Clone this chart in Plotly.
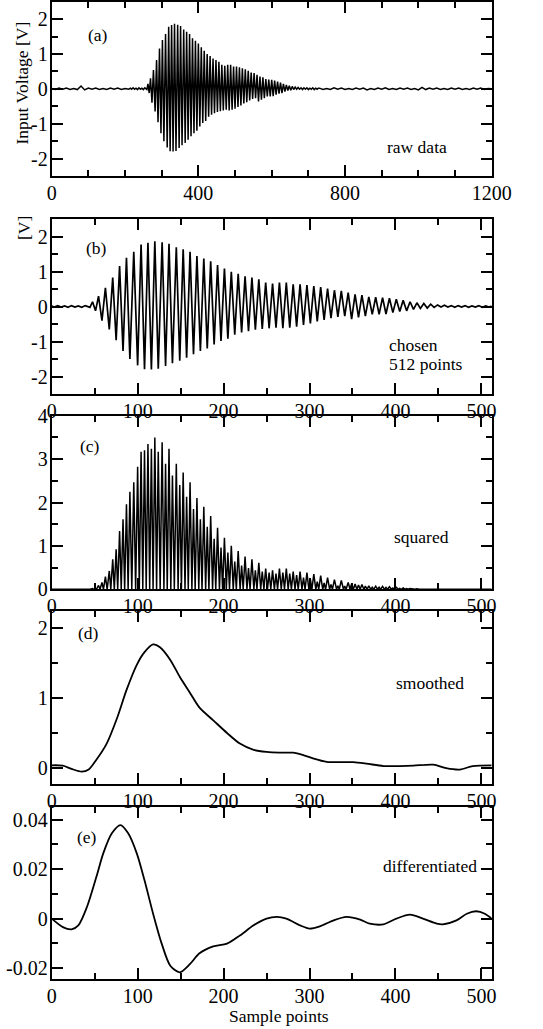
import numpy as np
import plotly.graph_objects as go

# ---------------- data ----------------
# chosen 512-point window: half-cycle extremes (sample index, volts)
chosen_x = [0, 3, 7, 11, 15, 19, 23, 27, 31, 35, 39, 42, 44.5,
            47.5, 51, 54.5, 58.5, 62.5, 67, 71, 75, 79, 83, 87, 91, 95.5, 100,
            104, 108, 112, 116, 120, 124, 128.5, 132.5, 136.5, 140.5, 145, 149,
            153, 157, 161, 165, 169, 173, 177, 181, 185, 189, 193, 197, 201, 205,
            209, 213, 217, 221, 225, 229, 233, 237, 241, 245, 249, 253, 257, 261,
            265, 269, 273, 277, 281, 285, 289, 293, 297, 301, 305, 309, 313, 317,
            321, 325, 329, 333, 337, 341, 345, 349, 353, 357, 361, 365, 369, 373,
            377, 381, 385, 389, 393, 397, 401, 405, 409, 413, 417, 421, 425, 429,
            433, 437, 441, 445,
            449, 453, 457, 461, 465, 469, 473, 477, 481, 485, 489, 493, 497, 501,
            505, 509, 512]
chosen_v = [0.02, -0.01, 0.03, -0.01, 0.02, -0.02, 0.03, -0.01, 0.02, -0.02, 0.03, -0.01, -0.02,
            0.14, -0.12, 0.30, -0.40, 0.54, -0.65, 0.83, -0.96, 1.16, -1.27, 1.40, -1.50, 1.57, -1.68,
            1.78, -1.79, 1.83, -1.80, 1.87, -1.78, 1.84, -1.70, 1.80, -1.62, 1.70, -1.55,
            1.64, -1.46, 1.57, -1.36, 1.45, -1.27, 1.38, -1.20, 1.30, -1.08, 1.19, -0.98, 1.09, -0.92,
            1.00, -0.80, 0.94, -0.74, 0.87, -0.70, 0.83, -0.66, 0.78, -0.64, 0.69, -0.62, 0.66, -0.60,
            0.69, -0.62, 0.69, -0.60, 0.64, -0.57, 0.64, -0.52, 0.62, -0.48, 0.59, -0.42, 0.56, -0.38,
            0.52, -0.33, 0.47, -0.29, 0.45, -0.27, 0.40, -0.36, 0.35, -0.31, 0.33, -0.27, 0.28, -0.22,
            0.27, -0.22, 0.26, -0.21, 0.24, -0.17, 0.21, -0.14, 0.18, -0.12, 0.14, -0.08, 0.11, -0.05,
            0.09, -0.04, 0.07, -0.02,
            0.05, -0.01, 0.04, -0.01, 0.03, -0.02, 0.03, -0.01, 0.03, -0.02, 0.02, -0.01, 0.03, -0.02,
            0.02, -0.01, 0.02]

window_start = 215  # raw sample index where the chosen window begins

# raw samples outside the chosen window (every 10th sample)
raw_pre_v = [0.01, -0.02, 0.02, -0.01, 0.02, -0.02, 0.01, -0.02, 0.08, -0.03, 0.02,
             -0.01, 0.02, -0.02, 0.01, -0.02, 0.02, -0.01, 0.02, -0.02, 0.01, -0.01]
raw_post_v = [0.02, -0.02, 0.01, -0.02, 0.03, -0.01, 0.02, -0.02, 0.01, -0.02,
              0.02, -0.01, 0.02, -0.03, 0.01, -0.02, 0.02, -0.01, 0.03, -0.02,
              0.01, -0.02, 0.02, -0.01, 0.02, -0.02, 0.01, -0.03, 0.04, -0.02,
              0.02, -0.01, 0.02, -0.02, 0.01, -0.02, 0.02, -0.01, 0.02, -0.02,
              0.01, -0.02, 0.02, -0.01, 0.02, -0.02, 0.01, 0.0]
raw_pre_x = np.arange(0, 211, 10)
raw_post_x = np.arange(730, 1201, 10)

smooth_x = [0, 13, 23, 35, 43, 52, 64, 76, 87, 99, 108, 118, 126, 138, 149, 161, 172, 188,
            204, 219, 235, 250, 265, 281, 292, 304, 320, 335, 351, 366, 386, 405, 421, 444,
            459, 475, 490, 512]
smooth_v = [0.04, 0.035, -0.01, -0.05, -0.02, 0.12, 0.35, 0.71, 1.11, 1.47, 1.65, 1.76, 1.72,
            1.54, 1.30, 1.07, 0.86, 0.68, 0.50, 0.35, 0.26, 0.23, 0.22, 0.22, 0.19, 0.14, 0.09,
            0.085, 0.085, 0.065, 0.03, 0.03, 0.035, 0.05, 0.0, -0.02, 0.03, 0.04]

diff_x = [0, 13, 23, 31, 41, 52, 60, 70, 80, 89, 99, 108, 118, 128, 138, 149, 161, 172, 188,
          204, 219, 235, 250, 262, 273, 289, 300, 312, 328, 343, 359, 370, 386, 401, 417, 432,
          448, 455, 471, 483, 494, 504, 512]
diff_v = [0.0, -0.0034, -0.0043, -0.0027, 0.0047, 0.0169, 0.0264, 0.0345, 0.0378, 0.0345,
          0.0264, 0.0155, 0.002, -0.0101, -0.019, -0.0217, -0.0183, -0.014, -0.0112, -0.0101,
          -0.0068, -0.0027, 0.0, 0.0007, 0.0, -0.0027, -0.004, -0.0031, -0.0007, 0.0007,
          -0.0004, -0.002, -0.0023, 0.0, 0.0016, 0.0, -0.002, -0.0023, -0.0007, 0.002, 0.003,
          0.002, 0.0]

# ---------------- derived series ----------------
raw_x = np.concatenate([raw_pre_x, np.array(chosen_x) + window_start, raw_post_x])
raw_v = np.concatenate([raw_pre_v, chosen_v, raw_post_v])

# squared signal: square of each extreme, with the zero crossing of the line between them
sq_x, sq_v = [], []
for i in range(len(chosen_x)):
    if i > 0:
        xa, va = chosen_x[i - 1], chosen_v[i - 1]
        xb, vb = chosen_x[i], chosen_v[i]
        if va * vb < 0:
            sq_x.append(xa + (xb - xa) * va / (va - vb))
            sq_v.append(0.0)
    sq_x.append(chosen_x[i])
    sq_v.append(chosen_v[i] ** 2)

# ---------------- figure ----------------
W, H = 543, 1029
FONT = "'Liberation Serif', 'Times New Roman', Times, serif"
fig = go.Figure()

LC = "black"
fig.add_trace(go.Scatter(x=raw_x, y=raw_v, mode="lines", line=dict(color=LC, width=1.5),
                         xaxis="x", yaxis="y", showlegend=False))
fig.add_trace(go.Scatter(x=chosen_x, y=chosen_v, mode="lines", line=dict(color=LC, width=1.7),
                         xaxis="x2", yaxis="y2", showlegend=False))
fig.add_trace(go.Scatter(x=sq_x, y=sq_v, mode="lines", line=dict(color=LC, width=1.5),
                         xaxis="x3", yaxis="y3", showlegend=False))
fig.add_trace(go.Scatter(x=smooth_x, y=smooth_v, mode="lines",
                         line=dict(color=LC, width=1.8, shape="spline", smoothing=0.8),
                         xaxis="x4", yaxis="y4", showlegend=False))
fig.add_trace(go.Scatter(x=diff_x, y=diff_v, mode="lines",
                         line=dict(color=LC, width=1.8, shape="spline", smoothing=0.8),
                         xaxis="x5", yaxis="y5", showlegend=False))

xl, xr = 51.7, 491.7
panels = [(1.7, 176.0), (219.3, 394.0), (415.7, 589.3), (610.7, 784.3), (807.3, 979.3)]
xdom = [xl / W, xr / W]


def ydom(p):
    return [1 - p[1] / H, 1 - p[0] / H]


def axis(domain, rng, tickvals, ticktext, minorvals, anchor, standoff):
    return dict(
        domain=domain, range=rng, anchor=anchor,
        tickmode="array", tickvals=tickvals, ticktext=ticktext,
        ticks="inside", ticklen=11, tickwidth=1.5, tickcolor="black",
        minor=dict(tickmode="array", tickvals=minorvals, ticks="inside", ticklen=6,
                   tickwidth=1.5, tickcolor="black", showgrid=False),
        showline=True, linewidth=2, linecolor="black", mirror="ticks",
        showgrid=False, zeroline=False, automargin=False,
        ticklabelstandoff=standoff,
        tickfont=dict(family=FONT, size=20, color="black"),
    )


def lab(vals, fmt="{:g}"):
    return [fmt.format(v) for v in vals]


x5ticks = [0, 100, 200, 300, 400, 500]
x5minor = [50, 150, 250, 350, 450]
XS, YS = -2, -2
layout = dict(
    width=W, height=H, margin=dict(l=0, r=0, t=0, b=0),
    paper_bgcolor="white", plot_bgcolor="white", showlegend=False,
    font=dict(family=FONT, color="black"),
)
# panel a
layout["xaxis"] = axis(xdom, [0, 1200], [0, 400, 800, 1200], lab([0, 400, 800, 1200]),
                       [100, 200, 300, 500, 600, 700, 900, 1000, 1100], "y", XS)
layout["yaxis"] = axis(ydom(panels[0]), [-2.5, 2.5], [-2, -1, 0, 1, 2], lab([-2, -1, 0, 1, 2]),
                       [-1.5, -0.5, 0.5, 1.5], "x", YS)
# panel b
layout["xaxis2"] = axis(xdom, [0, 512], x5ticks, lab(x5ticks), x5minor, "y2", XS)
layout["yaxis2"] = axis(ydom(panels[1]), [-2.5, 2.5], [-2, -1, 0, 1, 2], lab([-2, -1, 0, 1, 2]),
                        [-1.5, -0.5, 0.5, 1.5], "x2", YS)
# panel c
layout["xaxis3"] = axis(xdom, [0, 512], x5ticks, lab(x5ticks), x5minor, "y3", XS)
layout["yaxis3"] = axis(ydom(panels[2]), [0, 4], [0, 1, 2, 3, 4], lab([0, 1, 2, 3, 4]),
                        [0.5, 1.5, 2.5, 3.5], "x3", YS)
# panel d
layout["xaxis4"] = axis(xdom, [0, 512], x5ticks, lab(x5ticks), x5minor, "y4", XS)
layout["yaxis4"] = axis(ydom(panels[3]), [-0.23, 2.24], [0, 1, 2], lab([0, 1, 2]),
                        [0.5, 1.5], "x4", YS)
# panel e
layout["xaxis5"] = axis(xdom, [0, 512], x5ticks, lab(x5ticks), x5minor, "y5", XS)
layout["yaxis5"] = axis(ydom(panels[4]), [-0.0245, 0.045], [-0.02, 0, 0.02, 0.04],
                        ["-0.02", "0", "0.02", "0.04"], [-0.01, 0.01, 0.03], "x5", YS)

fig.update_layout(**layout)


def ann(text, px, py, size=17.5, xanchor="center", angle=0):
    fig.add_annotation(text=text, x=px / W, y=1 - py / H, xref="paper", yref="paper",
                       xanchor=xanchor, yanchor="middle", showarrow=False, textangle=angle,
                       font=dict(family=FONT, size=size, color="black"))


ann("(a)", 98, 35)
ann("raw data", 417, 147)
ann("(b)", 96, 248)
ann("chosen", 386.5, 345, xanchor="left")
ann("512 points", 386.5, 364, xanchor="left")
ann("(c)", 90, 446)
ann("squared", 421, 537)
ann("(d)", 88, 633)
ann("smoothed", 430, 683)
ann("(e)", 87, 837)
ann("differentiated", 430, 866)
ann("Sample points", 279, 1016)
ann("Input Voltage [V]", 21.5, 83, angle=-90)
ann("[V]", 24, 228, angle=-90)

# remove the browser's default page margin so the figure sits at the window origin
fig.write_html("out.html", config={"displayModeBar": False},
               post_script="document.body.style.margin='0px';document.body.style.overflow='hidden';")
